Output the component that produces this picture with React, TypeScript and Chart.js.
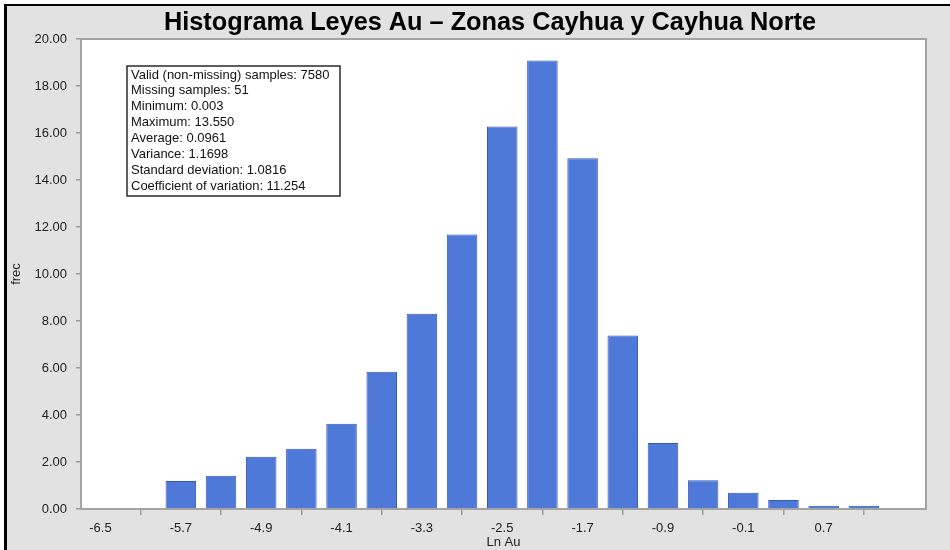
import React, { useEffect, useRef } from 'react';
import { Chart, registerables } from 'chart.js';

Chart.register(...registerables);

const chartTitle = 'Histograma Leyes Au – Zonas Cayhua y Cayhua Norte';
const xAxisTitle = 'Ln Au';
const yAxisTitle = 'frec';

const binCenters = [-5.7, -5.3, -4.9, -4.5, -4.1, -3.7, -3.3, -2.9, -2.5, -2.1, -1.7, -1.3, -0.9, -0.5, -0.1, 0.3, 0.7, 1.1];
const frequencies = [1.19, 1.41, 2.22, 2.56, 3.63, 5.84, 8.31, 11.68, 16.28, 19.08, 14.93, 7.38, 2.81, 1.22, 0.69, 0.38, 0.14, 0.14];

const xTickValues = [-6.5, -5.7, -4.9, -4.1, -3.3, -2.5, -1.7, -0.9, -0.1, 0.7, 1.5];
const xTickLabels = ['-6.5', '-5.7', '-4.9', '-4.1', '-3.3', '-2.5', '-1.7', '-0.9', '-0.1', '0.7', ''];
const xMin = -6.694;
const xMax = 1.719;
const yMin = 0;
const yMax = 20;
const yStep = 2;

const statsLines = [
  'Valid (non-missing) samples: 7580',
  'Missing samples: 51',
  'Minimum: 0.003',
  'Maximum: 13.550',
  'Average: 0.0961',
  'Variance: 1.1698',
  'Standard deviation: 1.0816',
  'Coefficient of variation: 11.254',
];

const FONT = "'Liberation Sans', Arial, sans-serif";

const framePlugin = {
  id: 'frame',
  beforeDraw(chart: any) {
    const { ctx, width, height, chartArea } = chart;
    ctx.save();
    ctx.fillStyle = '#ffffff';
    ctx.fillRect(0, 0, width, height);
    ctx.fillStyle = '#e2e2e2';
    ctx.fillRect(5, 5, width - 5, height - 5);
    ctx.fillStyle = '#000000';
    ctx.fillRect(4, 4, width - 4, 2);
    ctx.fillRect(4, 4, 3, height - 4);
    ctx.fillStyle = '#ffffff';
    ctx.fillRect(chartArea.left, chartArea.top, chartArea.right - chartArea.left, chartArea.bottom - chartArea.top);
    ctx.restore();
  },
  afterDraw(chart: any) {
    const { ctx, chartArea } = chart;
    ctx.save();
    // plot border
    ctx.strokeStyle = '#a4a4a4';
    ctx.lineWidth = 2;
    ctx.strokeRect(chartArea.left, chartArea.top, chartArea.right - chartArea.left, chartArea.bottom - chartArea.top);

    // title (condensed bold look)
    ctx.fillStyle = '#000000';
    ctx.font = `bold 25px 'Liberation Sans Narrow', 'Liberation Sans', Arial, sans-serif`;
    ctx.textBaseline = 'alphabetic';
    ctx.textAlign = 'left';
    const targetW = 652;
    const w = ctx.measureText(chartTitle).width;
    const sx = targetW / w;
    ctx.translate(490 - targetW / 2, 30);
    ctx.scale(sx, 1);
    ctx.fillText(chartTitle, 0, 0);
    ctx.setTransform(1, 0, 0, 1, 0, 0);

    // stats box
    const bx = 127, by = 66, bw = 213, bh = 130;
    ctx.fillStyle = '#ffffff';
    ctx.fillRect(bx, by, bw, bh);
    ctx.strokeStyle = '#2a2a2a';
    ctx.lineWidth = 1.5;
    ctx.strokeRect(bx, by, bw, bh);
    ctx.fillStyle = '#111111';
    ctx.font = `13px ${FONT}`;
    ctx.textBaseline = 'middle';
    statsLines.forEach((line, i) => {
      ctx.fillText(line, bx + 4, by + 9 + i * 15.9);
    });
    ctx.restore();
  },
};

export default function App() {
  const canvasRef = useRef<HTMLCanvasElement | null>(null);

  useEffect(() => {
    document.body.style.margin = '0';
    const canvas = canvasRef.current;
    if (!canvas) return;
    const chart = new Chart(canvas, {
      type: 'bar',
      data: {
        datasets: [
          {
            data: binCenters.map((x, i) => ({ x, y: frequencies[i] })),
            backgroundColor: '#4f79d8',
            borderColor: '#3656b8',
            borderWidth: 1,
            categoryPercentage: 1,
            barPercentage: 0.76,
          },
        ],
      },
      options: {
        animation: false,
        responsive: false,
        maintainAspectRatio: false,
        layout: { padding: { top: 39, right: 24, left: 0, bottom: 0 } },
        plugins: {
          legend: { display: false },
          tooltip: { enabled: false },
          title: { display: false },
        },
        scales: {
          x: {
            type: 'linear',
            min: xMin,
            max: xMax,
            offset: false,
            afterBuildTicks: (scale: any) => {
              scale.ticks = xTickValues.map((v) => ({ value: v }));
            },
            afterFit: (scale: any) => {
              scale.height = 41;
            },
            ticks: {
              autoSkip: false,
              maxRotation: 0,
              padding: 6,
              color: '#222222',
              font: { family: FONT, size: 13 },
              callback: (_v: any, index: number) => xTickLabels[index],
            },
            grid: {
              drawOnChartArea: false,
              drawTicks: true,
              tickLength: 6,
              color: '#9a9a9a',
              lineWidth: 1.5,
            },
            border: { display: false },
            title: {
              display: true,
              text: xAxisTitle,
              color: '#222222',
              font: { family: FONT, size: 13 },
              padding: { top: 0, bottom: 0 },
            },
          },
          y: {
            type: 'linear',
            min: yMin,
            max: yMax,
            afterFit: (scale: any) => {
              scale.width = 81;
            },
            ticks: {
              stepSize: yStep,
              padding: 9,
              color: '#222222',
              font: { family: FONT, size: 13 },
              callback: (v: any) => Number(v).toFixed(2),
            },
            grid: {
              drawOnChartArea: false,
              drawTicks: true,
              tickLength: 5,
              color: '#9a9a9a',
              lineWidth: 1.5,
            },
            border: { display: false },
            title: {
              display: true,
              text: yAxisTitle,
              color: '#222222',
              font: { family: FONT, size: 13 },
              padding: { top: 9, bottom: 0 },
            },
          },
        },
      },
      plugins: [framePlugin],
    } as any);
    return () => chart.destroy();
  }, []);

  return (
    <div style={{ width: 950, height: 550 }}>
      <canvas ref={canvasRef} width={950} height={550} style={{ display: 'block', width: 950, height: 550 }} />
    </div>
  );
}
